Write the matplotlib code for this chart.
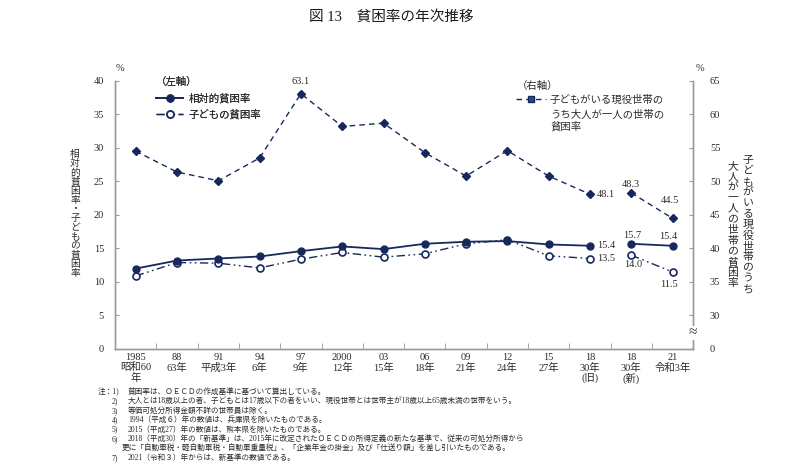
import numpy as np
import matplotlib.pyplot as plt
from matplotlib.lines import Line2D

plt.rcParams['font.family'] = ['Liberation Serif', 'Noto Sans CJK JP']

years = ['1985\n昭和60\n年', '88\n63年', '91\n平成3年', '94\n6年', '97\n9年', '2000\n12年',
         '03\n15年', '06\n18年', '09\n21年', '12\n24年', '15\n27年', '18\n30年\n(旧)',
         '18\n30年\n(新)', '21\n令和3年']
# 相対的貧困率 / 子どもの貧困率 (左軸)
rel = [12.0, 13.2, 13.5, 13.8, 14.6, 15.3, 14.9, 15.7, 16.0, 16.1, 15.6, 15.4, 15.7, 15.4]
child = [10.9, 12.9, 12.8, 12.1, 13.4, 14.4, 13.7, 14.2, 15.7, 16.3, 13.9, 13.5, 14.0, 11.5]
# 子どもがいる現役世帯のうち大人が一人の世帯の貧困率 (右軸)
single = [54.5, 51.4, 50.1, 53.5, 63.1, 58.2, 58.7, 54.3, 50.8, 54.6, 50.8, 48.1, 48.3, 44.5]

notes = [
    ('注：1)', '貧困率は、ＯＥＣＤの作成基準に基づいて算出している。'),
    ('2)', '大人とは18歳以上の者、子どもとは17歳以下の者をいい、現役世帯とは世帯主が18歳以上65歳未満の世帯をいう。'),
    ('3)', '等価可処分所得金額不詳の世帯員は除く。'),
    ('4)', '1994（平成６）年の数値は、兵庫県を除いたものである。'),
    ('5)', '2015（平成27）年の数値は、熊本県を除いたものである。'),
    ('6)', '2018（平成30）年の「新基準」は、2015年に改定されたＯＥＣＤの所得定義の新たな基準で、従来の可処分所得から'),
    ('', '更に「自動車税・軽自動車税・自動車重量税」、「企業年金の掛金」及び「仕送り額」を差し引いたものである。'),
    ('7)', '2021（令和３）年からは、新基準の数値である。'),
]

navy = '#17295c'
txt = '#2b2b2b'
grey = '#9a9a9a'

x = np.arange(len(years))
cut = 12  # 2018 旧 / 新 の間で線を切る

fig = plt.figure(figsize=(7.94, 4.65), dpi=100)
ax = fig.add_axes([0.145, 0.2495, 0.728, 0.5765])
ax2 = ax.twinx()

child_ls = (0, (6, 2.5, 1.2, 2.5, 1.2, 2.5))
for sl in (slice(0, cut), slice(cut, None)):
    ax.plot(x[sl], child[sl], color=navy, lw=1.0, ls=child_ls, marker='o', ms=5,
            mfc='white', mec=navy, mew=1.2, zorder=3)
    ax.plot(x[sl], rel[sl], color=navy, lw=1.3, ls='-', marker='o', ms=5, zorder=4)
    ax2.plot(x[sl], single[sl], color=navy, lw=1.0, ls=(0, (4, 3)), marker='D', ms=4, zorder=3)

ax.set_xlim(-0.5, len(years) - 0.5)
ax.set_ylim(0, 40)
ax2.set_ylim(25, 65)

ax.set_yticks(np.arange(0, 41, 5))
ax2.set_yticks(np.arange(25, 66, 5))
ax2.set_yticklabels(['0'] + [str(v) for v in range(30, 66, 5)])

ax.set_xticks(x)
ax.set_xticklabels(years, linespacing=1.05)
ax.set_xticks(np.arange(0.5, len(years) - 1, 1), minor=True)

for a in (ax, ax2):
    a.spines['top'].set_visible(False)
    for s in a.spines.values():
        s.set_color(grey)
        s.set_linewidth(1.0)
ax.tick_params(axis='x', which='major', length=0, pad=3, labelsize=7.5, labelcolor=txt)
ax.tick_params(axis='x', which='minor', direction='in', length=4, color=grey)
ax.tick_params(axis='y', direction='in', length=3, pad=8, labelsize=7.5, labelcolor=txt, color=grey)
ax2.tick_params(axis='y', direction='in', length=3, pad=12, labelsize=7.5, labelcolor=txt, color=grey)

# 右軸の省略記号
ax2.text(1.0, 27.4, '≈', transform=ax2.get_yaxis_transform(), ha='center', va='center',
         fontsize=11, color=txt, bbox=dict(fc='white', ec='none', pad=0.5), zorder=10)

# %
ax.text(0.0, 1.03, '%', transform=ax.transAxes, ha='left', va='bottom', fontsize=7.5, color=txt)
ax.text(1.005, 1.03, '%', transform=ax.transAxes, ha='left', va='bottom', fontsize=7.5, color=txt)

# 数値ラベル
lab = dict(fontsize=7.5, color=txt, textcoords='offset pixels')
ax2.annotate('63.1', (4, single[4]), xytext=(0, 8), ha='center', va='bottom', **lab)
ax2.annotate('48.1', (11, single[11]), xytext=(7, 0), ha='left', va='center', **lab)
ax2.annotate('48.3', (12, single[12]), xytext=(0, 4), ha='center', va='bottom', **lab)
ax2.annotate('44.5', (13, single[13]), xytext=(-3, 13), ha='center', va='bottom', **lab)
ax.annotate('15.4', (11, rel[11]), xytext=(7, 0), ha='left', va='center', **lab)
ax.annotate('15.7', (12, rel[12]), xytext=(1, 4), ha='center', va='bottom', **lab)
ax.annotate('15.4', (13, rel[13]), xytext=(-4, 5), ha='center', va='bottom', **lab)
ax.annotate('13.5', (11, child[11]), xytext=(7, 0), ha='left', va='center', **lab)
ax.annotate('14.0', (12, child[12]), xytext=(2, -5), ha='center', va='top', **lab)
ax.annotate('11.5', (13, child[13]), xytext=(-4, -8), ha='center', va='top', **lab)

# 凡例
h_rel = Line2D([], [], color=navy, lw=1.3, marker='o', ms=5)
h_child = Line2D([], [], color=navy, lw=1.0, ls=child_ls, marker='o', ms=5, mfc='white', mew=1.2)
h_single = Line2D([], [], color=navy, lw=1.0, ls=(0, (4, 3)), marker='s', ms=5, mfc='#2a4a85')

leg1 = ax.legend([h_rel, h_child], ['相対的貧困率', '子どもの貧困率'], title='（左軸）',
                 loc='upper left', bbox_to_anchor=(0.062, 1.035), frameon=False, fontsize=7.5,
                 title_fontsize=7.5, alignment='left', handlelength=2.6, handletextpad=0.5,
                 labelspacing=0.6, borderpad=0)
for t in leg1.get_texts():
    t.set_color(txt)
leg1.get_title().set_color(txt)
ax.add_artist(leg1)

leg2 = ax2.legend([h_single], ['子どもがいる現役世帯の'], title='（右軸）',
                  loc='upper left', bbox_to_anchor=(0.685, 1.018), frameon=False, fontsize=7.5,
                  title_fontsize=7.5, alignment='left', handlelength=2.9, handletextpad=0.3,
                  labelspacing=0.3, borderpad=0)
for t in leg2.get_texts():
    t.set_color(txt)
leg2.get_title().set_color(txt)
ax2.text(0.753, 0.892, 'うち大人が一人の世帯の\n貧困率', transform=ax2.transAxes, ha='left', va='top',
         fontsize=7.5, color=txt, linespacing=1.1)


# 軸ラベル（縦書き）: 1文字ずつ縦に並べる
def tategaki(s, xpx, ypx_center, step, size):
    top = ypx_center - step * (len(s) - 1) / 2
    for i, ch in enumerate(s):
        fig.text(xpx / 794, 1 - (top + i * step) / 465, ch, ha='center', va='center',
                 fontsize=size, color=txt)


tategaki('相対的貧困率・子どもの貧困率', 75, 214, 9.1, 7)
tategaki('子どもがいる現役世帯のうち', 748, 225, 10.8, 7.8)
tategaki('大人が一人の世帯の貧困率', 733, 225, 10.6, 7.8)

fig.text(391 / 794, 1 - 17 / 465, '図 13　貧困率の年次推移', ha='center', va='center',
         fontsize=10.5, color='#1a1a1a')

y0 = 392
for i, (num, body) in enumerate(notes):
    y = 1 - (y0 + i * 9.4) / 465
    if num:
        fig.text(112 / 794 if i else 98 / 794, y, num, ha='left', va='center', fontsize=5.5, color=txt)
        fig.text(128 / 794, y, body, ha='left', va='center', fontsize=5.5, color=txt)
    else:
        fig.text(122 / 794, y, body, ha='left', va='center', fontsize=5.5, color=txt)

fig.savefig('out.png', dpi=100)
